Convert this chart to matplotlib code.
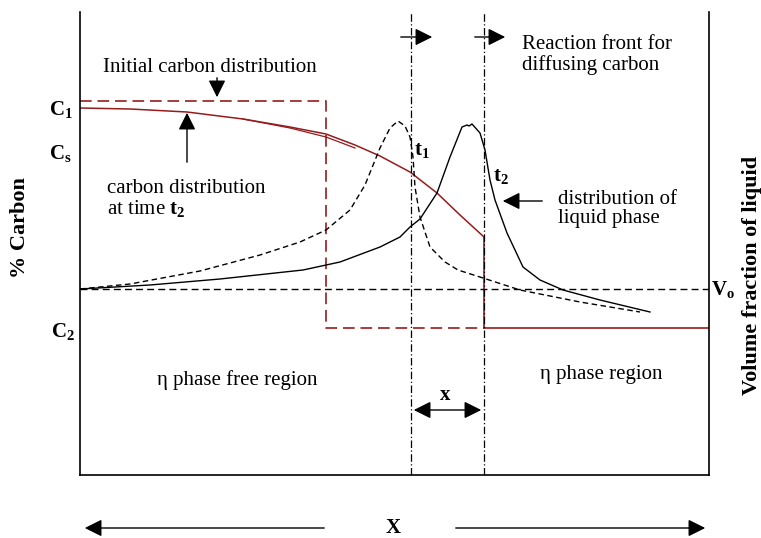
import matplotlib
matplotlib.use("Agg")
from matplotlib import pyplot as plt

plt.rcParams["font.family"] = ["Liberation Serif", "DejaVu Serif"]
plt.rcParams["mathtext.fontset"] = "custom"
plt.rcParams["mathtext.rm"] = "Liberation Serif"
plt.rcParams["mathtext.bf"] = "Liberation Serif:bold"
plt.rcParams["mathtext.it"] = "Liberation Serif:italic"

# schematic levels (arbitrary units: distance 0..629, level 0..463)
c1_level = 374
c2_level = 147
vo_level = 186
front_t1 = 331
front_t2 = 404
step_x = 246

# carbon distribution at time t2
carbon_x = [0, 50, 107, 163, 210, 246, 275, 300, 330, 357, 380, 404]
carbon_y = [367, 366, 363, 356, 348, 341, 330, 319, 303, 282, 260, 238]
# little doubled stroke in the drawing
double_x = [163, 210, 246, 275]
double_y = [356, 347, 338, 327]

# liquid phase distribution at t1 (dashed) and t2 (solid)
liq1_x = [0, 50, 120, 180, 220, 246, 270, 285, 300, 310, 318, 325, 330, 333,
          335, 340, 350, 365, 378, 403, 440, 500, 560]
liq1_y = [186, 191, 204, 220, 233, 245, 265, 290, 327, 347, 354, 349, 338, 318,
          288, 258, 228, 213, 205, 197, 185, 173, 163]
liq2_x = [0, 70, 140, 223, 260, 300, 320, 330, 340, 357, 370, 382, 387, 389,
          392, 400, 405, 410, 415, 427, 443, 460, 483, 520, 570]
liq2_y = [186, 190, 196, 205, 213, 228, 238, 248, 256, 282, 318, 348, 350, 349,
          351, 342, 325, 295, 275, 242, 208, 195, 185, 175, 163]

red = "#951c1c"

fig = plt.figure(figsize=(7.61, 5.38), dpi=100)
ax = fig.add_axes([80 / 761, 63 / 538, 629 / 761, 463 / 538])
ax.set_xlim(0, 629)
ax.set_ylim(0, 463)
ax.set_xticks([])
ax.set_yticks([])
ax.spines["top"].set_visible(False)
for s in ["left", "right", "bottom"]:
    ax.spines[s].set_linewidth(1.2)

# initial carbon distribution (step)
ax.plot([0, step_x, step_x, front_t2], [c1_level, c1_level, c2_level, c2_level],
        color=red, lw=1.2, dashes=(7, 3.5))
ax.plot([front_t2, 629], [c2_level, c2_level], color=red, lw=1.2)
ax.plot([front_t2, front_t2], [carbon_y[-1], c2_level], color=red, lw=1.2)

# carbon distribution at t2
ax.plot(carbon_x, carbon_y, color=red, lw=1.1)
ax.plot(double_x, double_y, color=red, lw=0.9)

# Vo level
ax.plot([0, 629], [vo_level, vo_level], color="k", lw=1.0, dashes=(5, 3))

# liquid phase curves
ax.plot(liq1_x, liq1_y, color="k", lw=1.0, dashes=(4, 2.5))
ax.plot(liq2_x, liq2_y, color="k", lw=1.0)

# reaction fronts
for fx in [front_t1, front_t2]:
    ax.plot([fx, fx], [0, 463], color="k", lw=0.9, dashes=(6, 2, 1, 2))

arrow = dict(arrowstyle="-|>", color="k", lw=1.0, mutation_scale=26)
# top arrows at the fronts
ax.annotate("", xy=(355, 438), xytext=(318, 438), arrowprops=arrow, annotation_clip=False)
ax.annotate("", xy=(428, 438), xytext=(392, 438), arrowprops=arrow, annotation_clip=False)

fs = 15
fb = 16
ax.text(442, 420, "Reaction front for\ndiffusing carbon", fontsize=fs,
        ha="left", va="center", linespacing=1.05)
ax.text(130, 407, "Initial carbon distribution", fontsize=fs, ha="center", va="center")
ax.annotate("", xy=(137, 375), xytext=(137, 400), arrowprops=arrow)
ax.annotate("", xy=(107, 365), xytext=(107, 310), arrowprops=arrow)
ax.text(27, 276, "carbon distribution\nat time $\\mathbf{t}_\\mathbf{2}$", fontsize=fs,
        ha="left", va="center", linespacing=1.05)

ax.text(342, 325, "$\\mathbf{t}_\\mathbf{1}$", fontsize=fs, ha="center", va="center")
ax.text(421, 298, "$\\mathbf{t}_\\mathbf{2}$", fontsize=fs, ha="center", va="center")
ax.text(478, 266, "distribution of\nliquid phase", fontsize=fs,
        ha="left", va="center", linespacing=1.05)
ax.annotate("", xy=(420, 274), xytext=(465, 274), arrowprops=arrow)

ax.text(-19, 366, "$\\mathbf{C}_\\mathbf{1}$", fontsize=fs, ha="center", va="center")
ax.text(-20, 321, "$\\mathbf{C}_\\mathbf{s}$", fontsize=fs, ha="center", va="center")
ax.text(-17, 143, "$\\mathbf{C}_\\mathbf{2}$", fontsize=fs, ha="center", va="center")
ax.text(643, 185, "$\\mathbf{V}_\\mathbf{o}$", fontsize=fs, ha="center", va="center")

ax.text(-60, 247, "% Carbon", fontsize=fb, fontweight="bold", rotation=90,
        ha="center", va="center")
ax.text(672, 200, "Volume fraction of liquid", fontsize=fb, fontweight="bold",
        rotation=90, ha="center", va="center")

ax.text(157, 95, "\u03b7 phase free region", fontsize=fs, ha="center", va="center")
ax.text(521, 100, "\u03b7 phase region", fontsize=fs, ha="center", va="center")

# width x between fronts
ax.text(365, 80, "x", fontsize=fs, fontweight="bold", ha="center", va="center")
ax.annotate("", xy=(front_t1, 65), xytext=(front_t2, 65),
            arrowprops=dict(arrowstyle="<|-|>", color="k", lw=1.0, mutation_scale=26))

# distance axis below
ax.annotate("", xy=(2, -53), xytext=(247, -53), arrowprops=arrow, annotation_clip=False)
ax.annotate("", xy=(628, -53), xytext=(373, -53), arrowprops=arrow, annotation_clip=False)
ax.text(313, -53, "X", fontsize=fs, fontweight="bold", ha="center", va="center")

fig.savefig("out.png", dpi=100)
